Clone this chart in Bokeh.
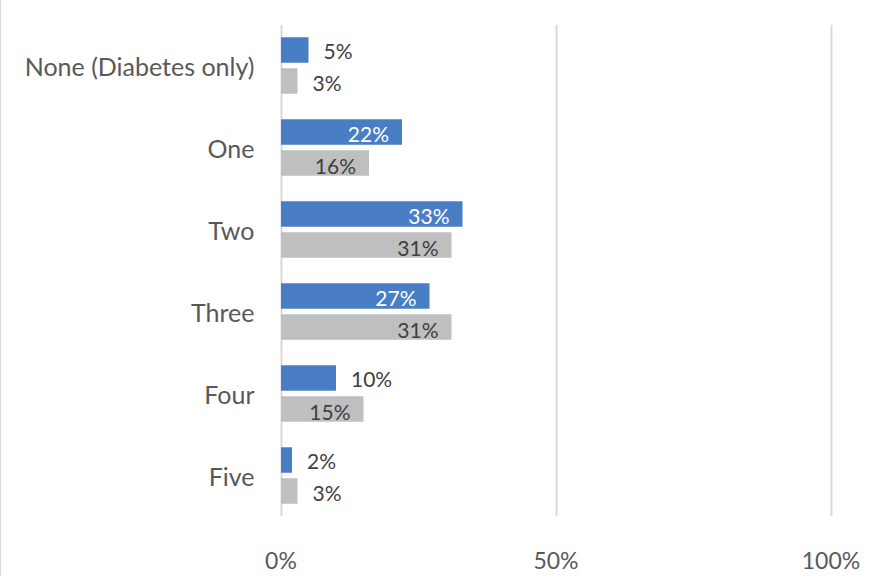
from bokeh.plotting import figure
from bokeh.models import Range1d, FixedTicker, PrintfTickFormatter, ColumnDataSource
from bokeh.core.properties import value
from bokeh.embed import file_html
from bokeh.resources import INLINE

categories = ["None (Diabetes only)", "One", "Two", "Three", "Four", "Five"]
series_blue = [5, 22, 33, 27, 10, 2]
series_gray = [3, 16, 31, 31, 15, 3]
x_ticks = [0, 50, 100]

BLUE = "#4A7EC4"
GRAY = "#BFBFBF"
FONT = "Lato"
THRESH = 12

p = figure(frame_width=561, frame_height=492, output_backend="svg", toolbar_location=None,
           x_range=Range1d(-1, 101), y_range=Range1d(len(categories) - 0.5, -0.5),
           min_border_left=274, min_border_right=30, min_border_top=25, min_border_bottom=58)
p.styles = {"border-top": "2px solid #d9d9d9", "border-left": "2px solid #d9d9d9",
            "margin-top": "-3px", "margin-left": "-1px"}
p.outline_line_color = None
p.background_fill_color = "white"
p.border_fill_color = "white"

idx = list(range(len(categories)))
off = 0.19
h = 0.31
blue_y = [i - off for i in idx]
gray_y = [i + off for i in idx]

p.hbar(y=blue_y, left=0, right=series_blue, height=h, color=BLUE, line_color=None)
p.hbar(y=gray_y, left=0, right=series_gray, height=h, color=GRAY, line_color=None)

def labels(ys, vals, inside_color):
    ins = [(y, v) for y, v in zip(ys, vals) if v >= THRESH]
    outs = [(y, v) for y, v in zip(ys, vals) if v < THRESH]
    if ins:
        s = ColumnDataSource(dict(y=[a for a, _ in ins], x=[b for _, b in ins],
                                  t=[f"{b}%" for _, b in ins]))
        p.text(x="x", y="y", text="t", source=s, x_offset=-13, y_offset=2,
               text_align="right", text_baseline="middle", text_font=value(FONT),
               text_font_size="21px", text_color=inside_color)
    if outs:
        s = ColumnDataSource(dict(y=[a for a, _ in outs], x=[b for _, b in outs],
                                  t=[f"{b}%" for _, b in outs]))
        p.text(x="x", y="y", text="t", source=s, x_offset=15, y_offset=1,
               text_align="left", text_baseline="middle", text_font=value(FONT),
               text_font_size="21px", text_color="#404040")

labels(blue_y, series_blue, "white")
labels(gray_y, series_gray, "#404040")

# axes
p.xaxis.ticker = FixedTicker(ticks=x_ticks)
p.xaxis.formatter = PrintfTickFormatter(format="%d%%")
p.xaxis.axis_line_color = None
p.xaxis.major_tick_line_color = None
p.xaxis.minor_tick_line_color = None
p.xaxis.major_label_standoff = 23
p.xaxis.major_label_text_font = FONT
p.xaxis.major_label_text_font_size = "23px"
p.xaxis.major_label_text_color = "#595959"

p.yaxis.ticker = FixedTicker(ticks=idx)
p.yaxis.major_label_overrides = {i: c for i, c in zip(idx, categories)}
p.yaxis.axis_line_color = None
p.yaxis.major_tick_line_color = None
p.yaxis.minor_tick_line_color = None
p.yaxis.major_label_standoff = 15
p.yaxis.major_label_text_font = FONT
p.yaxis.major_label_text_font_size = "25px"
p.yaxis.major_label_text_color = "#595959"

p.xgrid.ticker = FixedTicker(ticks=x_ticks)
p.xgrid.grid_line_color = "#D9D9D9"
p.xgrid.grid_line_width = 2
p.ygrid.grid_line_color = None

open("out.html", "w").write(file_html(p, INLINE))
